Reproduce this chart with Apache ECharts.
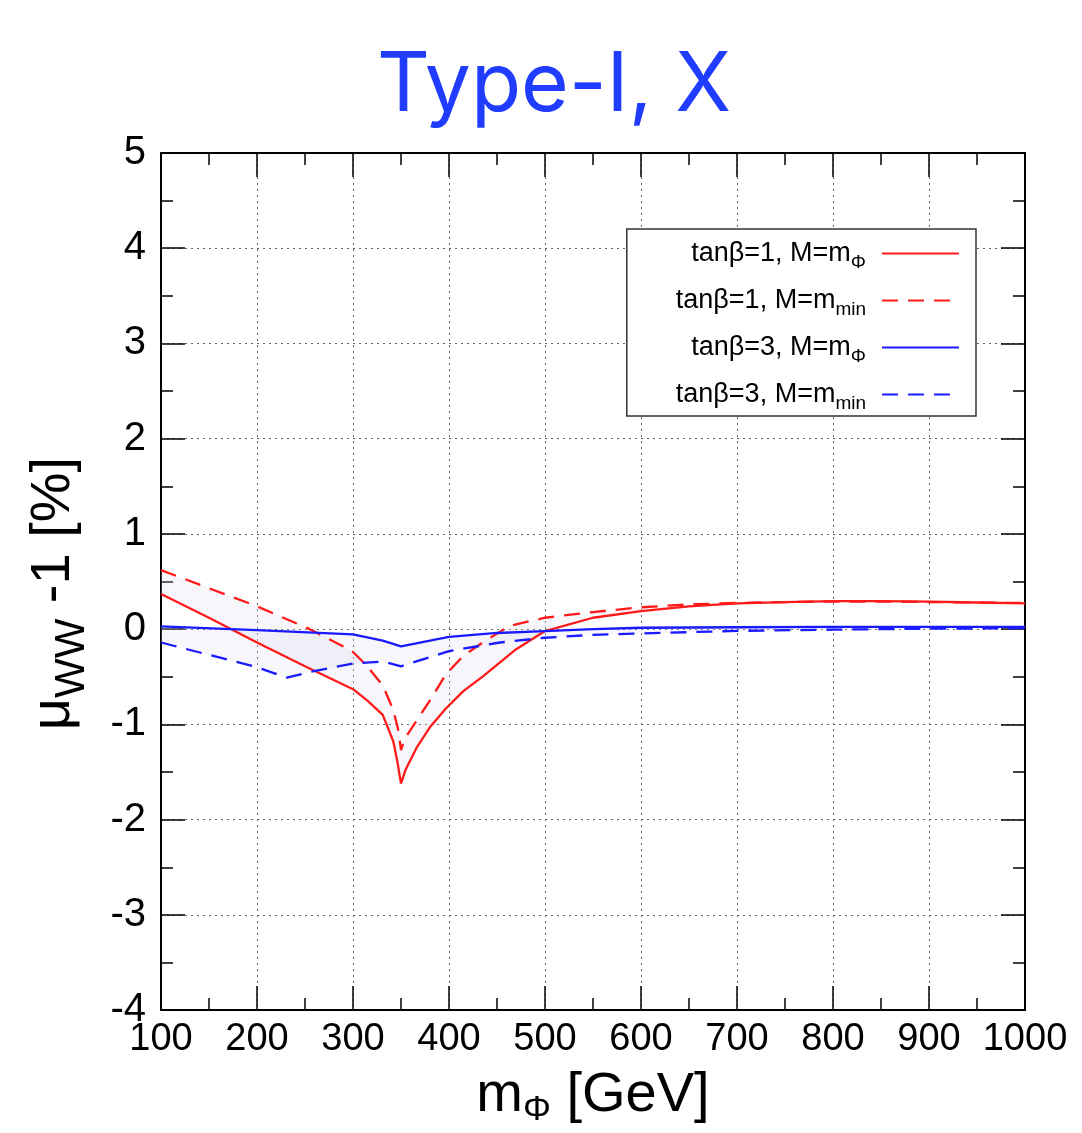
<!DOCTYPE html>
<html>
<head>
<meta charset="utf-8">
<script src="https://cdn.jsdelivr.net/npm/echarts@6/dist/echarts.min.js"></script>
<style>html,body{margin:0;padding:0;background:#fff;}#chart{width:1082px;height:1133px;}</style>
</head>
<body>
<div id="chart"></div>
<script>
// ---- data ----
const titleText = 'Type-I, X';
const xTickValues = [100, 200, 300, 400, 500, 600, 700, 800, 900, 1000];
const yTickValues = [-4, -3, -2, -1, 0, 1, 2, 3, 4, 5];
const seriesNames = ['tanβ=1, M=m_Φ', 'tanβ=1, M=m_min', 'tanβ=3, M=m_Φ', 'tanβ=3, M=m_min'];

// tanβ=1, M=mΦ (red solid)
const t1PhiX = [100, 150, 200, 250, 300, 315, 331, 342, 346, 350, 355, 366, 380, 397, 415, 436, 470, 500, 550, 600, 650, 700, 750, 800, 850, 900, 950, 1000];
const t1PhiY = [0.37, 0.12, -0.14, -0.39, -0.63, -0.75, -0.90, -1.18, -1.38, -1.62, -1.47, -1.25, -1.03, -0.83, -0.65, -0.49, -0.21, -0.02, 0.12, 0.19, 0.24, 0.27, 0.285, 0.295, 0.295, 0.29, 0.28, 0.27];

// tanβ=1, M=mmin (red dashed)
const t1MinX = [100, 150, 200, 255, 299, 314, 331, 342, 347, 350, 354, 365, 380, 397, 415, 435, 463, 500, 550, 600, 650, 700, 750, 800, 850, 900, 950, 1000];
const t1MinY = [0.62, 0.43, 0.24, 0.0, -0.23, -0.38, -0.59, -0.85, -1.05, -1.27, -1.15, -0.98, -0.75, -0.47, -0.28, -0.14, 0.035, 0.12, 0.18, 0.23, 0.26, 0.275, 0.285, 0.29, 0.29, 0.285, 0.28, 0.275];

// tanβ=3, M=mΦ (blue solid)
const t3PhiX = [100, 200, 300, 331, 350, 400, 450, 500, 550, 600, 700, 800, 900, 1000];
const t3PhiY = [0.03, -0.01, -0.055, -0.12, -0.18, -0.08, -0.04, -0.02, 0.0, 0.015, 0.02, 0.025, 0.025, 0.025];

// tanβ=3, M=mmin (blue dashed)
const t3MinX = [100, 150, 200, 231, 255, 300, 331, 350, 400, 453, 500, 550, 600, 700, 800, 900, 1000];
const t3MinY = [-0.14, -0.27, -0.40, -0.51, -0.45, -0.36, -0.34, -0.39, -0.23, -0.14, -0.09, -0.06, -0.045, -0.018, -0.005, 0.005, 0.01];

const pairs = (xs, ys) => xs.map((x, i) => [x, ys[i]]);

const RED = '#ff1a1a';
const BLUE = '#1a1aff';
const BAND = 'rgba(215,215,235,0.22)';

function bandSeries(xa, ya, xb, yb) {
  return {
    type: 'custom',
    name: 'band',
    z: 1,
    silent: true,
    clip: true,
    data: [[xa[0], ya[0]]],
    encode: { x: 0, y: 1 },
    renderItem: function (params, api) {
      const pts = [];
      for (let i = 0; i < xa.length; i++) pts.push(api.coord([xa[i], ya[i]]));
      for (let i = xb.length - 1; i >= 0; i--) pts.push(api.coord([xb[i], yb[i]]));
      return { type: 'polygon', shape: { points: pts }, style: { fill: BAND, stroke: null } };
    }
  };
}

function lineSeries(name, xs, ys, color, dashed) {
  return {
    type: 'line',
    name: name,
    z: 3,
    data: pairs(xs, ys),
    symbol: 'circle',
    symbolSize: 0,
    showSymbol: false,
    smooth: false,
    clip: true,
    lineStyle: { color: color, width: 2.3, type: dashed ? [16, 10] : 'solid' },
    itemStyle: { color: color }
  };
}

const chart = echarts.init(document.getElementById('chart'), null, { renderer: 'canvas' });

const tickFont = 'Liberation Sans';
const axisCommon = {
  type: 'value',
  axisLine: { show: true, onZero: false, lineStyle: { color: '#000', width: 2 } },
  axisTick: { show: true, inside: true, length: 24, lineStyle: { color: '#000', width: 1.5 } },
  minorTick: { show: true, splitNumber: 2, length: 12, lineStyle: { color: '#000', width: 1.5 } },
};

const option = {
  backgroundColor: '#fff',
  animation: false,
  title: {
    text: titleText,
    left: 372,
    top: 40,
    textStyle: { fontFamily: 'Inter', fontSize: 82, fontWeight: 'normal', color: '#1f3cff' }
  },
  grid: { left: 161, right: 57, top: 153, bottom: 116, containLabel: false },
  legend: {
    orient: 'vertical',
    right: 106,
    top: 229,
    align: 'right',
    data: seriesNames,
    itemWidth: 77,
    itemHeight: 14,
    itemGap: 10,
    padding: [6, 16, 3, 49],
    backgroundColor: '#fff',
    borderColor: '#333',
    borderWidth: 1.5,
    borderRadius: 0,
    selectedMode: false,
    itemStyle: { color: 'rgba(0,0,0,0)', borderColor: 'rgba(0,0,0,0)', borderWidth: 0, opacity: 0 },
    formatter: function (name) {
      const parts = name.split('_');
      return '{t|' + parts[0] + '}{s|' + parts[1] + '}';
    },
    textStyle: {
      fontFamily: tickFont, fontSize: 27, color: '#000', padding: [0, 11, 0, 0],
      rich: {
        t: { fontFamily: tickFont, fontSize: 27, lineHeight: 22, color: '#000' },
        s: { fontFamily: tickFont, fontSize: 19, lineHeight: 22, color: '#000', padding: [18, 0, 0, 0] }
      }
    }
  },
  xAxis: [
    Object.assign({}, axisCommon, {
      min: 100, max: 1000, interval: 100,
      position: 'bottom',
      splitLine: { show: true, lineStyle: { color: '#666', width: 1, type: [2, 4] } },
      axisLabel: {
        show: true, interval: 0, margin: 10, color: '#000', showMaxLabel: true, showMinLabel: true,
        fontFamily: tickFont, fontSize: 38,
        formatter: function (v) { return xTickValues.indexOf(v) >= 0 ? String(v) : ''; }
      },
      name: '{m|m}{s|Φ}{m| [GeV]}',
      nameLocation: 'middle',
      nameGap: 56,
      nameTextStyle: {
        color: '#000', fontFamily: tickFont, fontSize: 56, verticalAlign: 'top',
        rich: {
          m: { fontFamily: tickFont, fontSize: 56, lineHeight: 56, color: '#000' },
          s: { fontFamily: tickFont, fontSize: 35, lineHeight: 56, color: '#000', padding: [30, 0, 0, 0] }
        }
      }
    }),
    Object.assign({}, axisCommon, {
      min: 100, max: 1000, interval: 100,
      position: 'top',
      splitLine: { show: false },
      axisLabel: { show: false }
    })
  ],
  yAxis: [
    Object.assign({}, axisCommon, {
      min: -4, max: 5, interval: 1,
      position: 'left',
      splitLine: { show: true, lineStyle: { color: '#666', width: 1, type: [2, 4] } },
      axisLabel: {
        show: true, margin: 15, color: '#000', fontFamily: tickFont, fontSize: 40,
        formatter: function (v) { return yTickValues.indexOf(v) >= 0 ? String(v) : ''; }
      },
      name: '{m|μ}{s|WW}{m| -1 [%]}',
      nameLocation: 'middle',
      nameRotate: 90,
      nameGap: 78,
      nameTextStyle: {
        color: '#000', fontFamily: tickFont, fontSize: 56, padding: [0, 24, 0, 0],
        rich: {
          m: { fontFamily: tickFont, fontSize: 56, lineHeight: 58, color: '#000' },
          s: { fontFamily: tickFont, fontSize: 42, lineHeight: 58, color: '#000', padding: [36, 0, 0, 0] }
        }
      }
    }),
    Object.assign({}, axisCommon, {
      min: -4, max: 5, interval: 1,
      position: 'right',
      splitLine: { show: false },
      axisLabel: { show: false }
    })
  ],
  series: [
    bandSeries(t1PhiX, t1PhiY, t1MinX, t1MinY),
    bandSeries(t3PhiX, t3PhiY, t3MinX, t3MinY),
    lineSeries(seriesNames[0], t1PhiX, t1PhiY, RED, false),
    lineSeries(seriesNames[1], t1MinX, t1MinY, RED, true),
    lineSeries(seriesNames[2], t3PhiX, t3PhiY, BLUE, false),
    lineSeries(seriesNames[3], t3MinX, t3MinY, BLUE, true)
  ]
};

chart.setOption(option);
</script>
</body>
</html>
